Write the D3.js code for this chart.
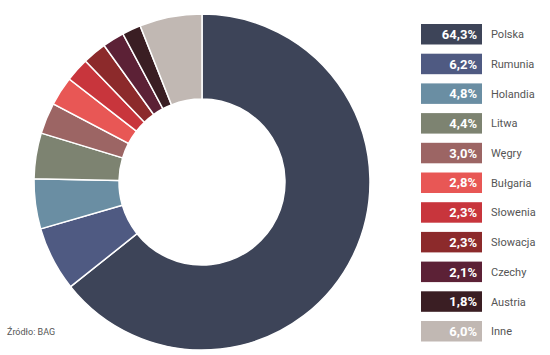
<!DOCTYPE html>
<html>
<head>
<meta charset="utf-8">
<script src="https://cdn.jsdelivr.net/npm/d3@7"></script>
<style>
  body { margin: 0; background: #fff; }
  text { font-family: Roboto, "Liberation Sans", sans-serif; }
</style>
</head>
<body>
<div class="chart"></div>
<script>
// shares of the market, by country
const countries = ['Polska', 'Rumunia', 'Holandia', 'Litwa', 'Węgry', 'Bułgaria', 'Słowenia', 'Słowacja', 'Czechy', 'Austria', 'Inne']
const shares = [64.3, 6.2, 4.8, 4.4, 3.0, 2.8, 2.3, 2.3, 2.1, 1.8, 6.0]
const colors = ['#3d4458', '#4f5a82', '#6a8ea3', '#7d8371', '#9c6564', '#e85755', '#c8353c', '#8c2a2b', '#5c2136', '#3a1e23', '#c1b8b3']
const source = 'Źródło: BAG'

const width = 550
const height = 355

const svg = d3.select('.chart')
  .append('svg')
    .attr('width', width)
    .attr('height', height)

const fmt = v => v.toFixed(1).replace('.', ',') + '%'

const data = countries.map((c, i) => ({ name: c, value: shares[i], color: colors[i] }))

// donut
const pie = d3.pie().sort(null).value(d => d.value)
const arc = d3.arc().innerRadius(83).outerRadius(168)

const donut = svg.append('g')
  .attr('transform', 'translate(202, 182)')

donut.selectAll('path')
  .data(pie(data))
  .enter().append('path')
    .attr('d', arc)
    .attr('fill', d => d.data.color)
    .attr('stroke', '#fff')
    .attr('stroke-width', 1.5)

// legend
const y = d3.scaleBand()
  .domain(countries)
  .range([24, 341.5])
  .paddingInner(0.31)

const legend = svg.append('g')
  .attr('transform', 'translate(421, 0)')

const rows = legend.selectAll('g')
  .data(data)
  .enter().append('g')
    .attr('transform', d => `translate(0, ${y(d.name)})`)

rows.append('rect')
  .attr('width', 61)
  .attr('height', y.bandwidth())
  .attr('fill', d => d.color)

rows.append('text')
  .attr('x', 56)
  .attr('y', y.bandwidth() / 2)
  .attr('dy', '0.36em')
  .attr('text-anchor', 'end')
  .attr('fill', '#fff')
  .attr('font-size', 13)
  .attr('font-weight', 'bold')
  .text(d => fmt(d.value))

rows.append('text')
  .attr('x', 70)
  .attr('y', y.bandwidth() / 2)
  .attr('dy', '0.36em')
  .attr('fill', '#555')
  .attr('font-size', 11)
  .text(d => d.name)

svg.append('text')
  .attr('x', 7)
  .attr('y', 335)
  .attr('fill', '#555')
  .attr('font-size', 9)
  .text(source)
</script>
</body>
</html>
